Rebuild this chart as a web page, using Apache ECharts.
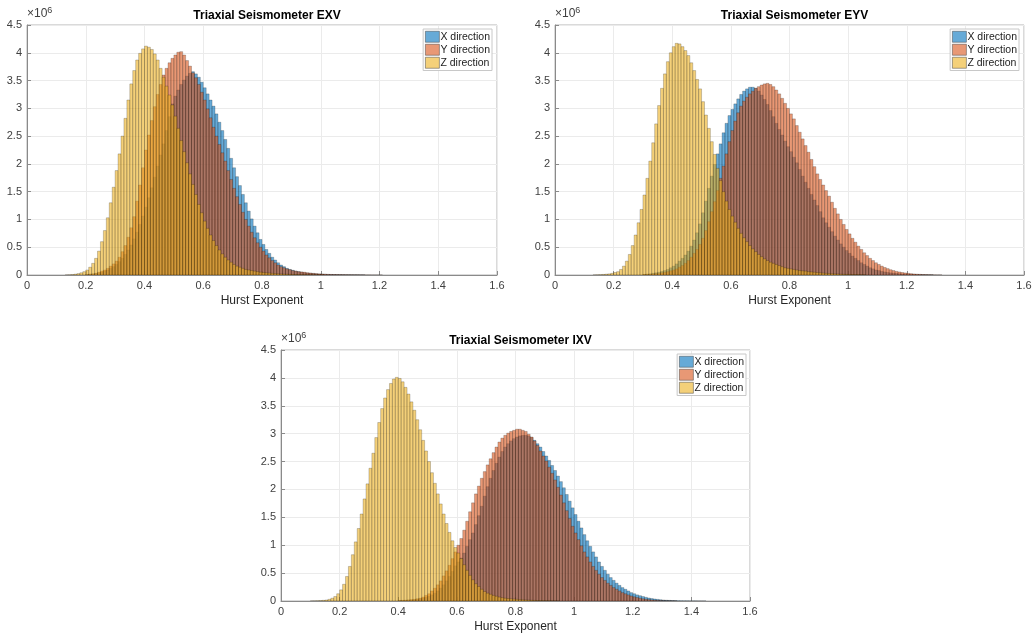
<!DOCTYPE html>
<html>
<head>
<meta charset="utf-8">
<script src="https://cdn.jsdelivr.net/npm/echarts@6/dist/echarts.min.js"></script>
<style>
  html, body { margin: 0; padding: 0; background: #fff; }
  #chart { width: 1035px; height: 634px; }
</style>
</head>
<body>
<div id="chart"></div>
<script>
// histogram bin width (Hurst exponent) and counts in units of 1e6
const binWidth = 0.01;
const xTicks = [0, 0.2, 0.4, 0.6, 0.8, 1, 1.2, 1.4, 1.6];
const yTicks = [0, 0.5, 1, 1.5, 2, 2.5, 3, 3.5, 4, 4.5];
const seriesNames = ['X direction', 'Y direction', 'Z direction'];
const titles = ['Triaxial Seismometer EXV', 'Triaxial Seismometer EYV', 'Triaxial Seismometer IXV'];

// EXV
const exvXStart = 0.20;
const exvX = [0.01, 0.015, 0.02, 0.03, 0.04, 0.05, 0.07, 0.09, 0.12, 0.15, 0.19, 0.24, 0.30, 0.37, 0.45, 0.54, 0.65, 0.77, 0.91, 1.06,
  1.22, 1.39, 1.57, 1.76, 1.96, 2.16, 2.36, 2.60, 2.85, 3.08, 3.22, 3.33, 3.43, 3.51, 3.58, 3.63, 3.66, 3.62, 3.56, 3.47,
  3.37, 3.26, 3.15, 3.04, 2.90, 2.75, 2.60, 2.44, 2.28, 2.10, 1.93, 1.77, 1.61, 1.45, 1.30, 1.15, 1.01, 0.88, 0.76, 0.64,
  0.55, 0.46, 0.39, 0.32, 0.27, 0.22, 0.18, 0.15, 0.12, 0.10, 0.085, 0.07, 0.06, 0.05, 0.04, 0.035, 0.03, 0.025, 0.02, 0.017,
  0.014, 0.012, 0.01, 0.008, 0.007, 0.006, 0.005, 0.004, 0.003, 0.003, 0.002, 0.002, 0.002, 0.001, 0.001];
const exvYStart = 0.20;
const exvY = [0.01, 0.015, 0.02, 0.03, 0.05, 0.07, 0.09, 0.12, 0.16, 0.20, 0.25, 0.32, 0.42, 0.53, 0.68, 0.85, 1.05, 1.33, 1.62, 1.93,
  2.25, 2.52, 2.78, 3.03, 3.25, 3.43, 3.60, 3.72, 3.82, 3.90, 3.96, 4.01, 4.02, 3.96, 3.86, 3.76, 3.64, 3.55, 3.43, 3.29,
  3.15, 2.99, 2.83, 2.66, 2.50, 2.35, 2.20, 2.05, 1.88, 1.72, 1.56, 1.41, 1.27, 1.13, 1.00, 0.88, 0.77, 0.67, 0.58, 0.50,
  0.43, 0.36, 0.31, 0.26, 0.22, 0.18, 0.15, 0.13, 0.11, 0.095, 0.08, 0.07, 0.06, 0.055, 0.05, 0.04, 0.035, 0.03, 0.025, 0.02,
  0.018, 0.015, 0.012, 0.01, 0.009, 0.008, 0.007, 0.006, 0.005, 0.004, 0.004, 0.003, 0.003, 0.002, 0.002, 0.002, 0.002, 0.001, 0.001, 0.001, 0.001];
const exvZStart = 0.13;
const exvZ = [0.002, 0.004, 0.008, 0.015, 0.025, 0.04, 0.06, 0.09, 0.14, 0.21, 0.30, 0.43, 0.60, 0.80, 1.03, 1.30, 1.58, 1.88, 2.18, 2.50,
  2.82, 3.15, 3.44, 3.68, 3.87, 3.99, 4.07, 4.12, 4.10, 4.06, 3.98, 3.87, 3.72, 3.56, 3.40, 3.24, 3.06, 2.86, 2.64, 2.42,
  2.22, 2.02, 1.82, 1.63, 1.45, 1.27, 1.12, 0.97, 0.84, 0.72, 0.62, 0.53, 0.45, 0.38, 0.32, 0.27, 0.23, 0.19, 0.16, 0.14,
  0.12, 0.10, 0.09, 0.08, 0.07, 0.06, 0.05, 0.045, 0.04, 0.035, 0.03, 0.026, 0.022, 0.019, 0.016, 0.014, 0.012, 0.01, 0.009, 0.008,
  0.007, 0.006, 0.005, 0.004, 0.004, 0.003, 0.003, 0.002];

// EYV
const eyvXStart = 0.30;
const eyvX = [0.01, 0.015, 0.02, 0.03, 0.04, 0.05, 0.065, 0.08, 0.10, 0.13, 0.16, 0.20, 0.25, 0.30, 0.36, 0.43, 0.52, 0.63, 0.76, 0.92,
  1.12, 1.33, 1.56, 1.78, 1.99, 2.18, 2.36, 2.56, 2.73, 2.87, 2.98, 3.08, 3.17, 3.25, 3.31, 3.35, 3.38, 3.38, 3.36, 3.31,
  3.24, 3.16, 3.07, 2.96, 2.85, 2.73, 2.62, 2.52, 2.41, 2.31, 2.22, 2.12, 2.02, 1.90, 1.78, 1.67, 1.56, 1.45, 1.35, 1.25,
  1.14, 1.03, 0.94, 0.86, 0.78, 0.70, 0.63, 0.56, 0.50, 0.44, 0.39, 0.34, 0.30, 0.26, 0.22, 0.19, 0.16, 0.13, 0.11, 0.09,
  0.08, 0.065, 0.055, 0.045, 0.038, 0.032, 0.027, 0.022, 0.018, 0.015, 0.012, 0.01, 0.008, 0.006, 0.005, 0.004, 0.003, 0.002, 0.002];
const eyvYStart = 0.30;
const eyvY = [0.01, 0.012, 0.015, 0.02, 0.025, 0.03, 0.04, 0.05, 0.06, 0.075, 0.09, 0.11, 0.14, 0.17, 0.21, 0.26, 0.32, 0.39, 0.46, 0.55,
  0.66, 0.80, 0.96, 1.14, 1.32, 1.52, 1.74, 1.96, 2.18, 2.40, 2.60, 2.77, 2.92, 3.04, 3.13, 3.20, 3.26, 3.31, 3.36, 3.39,
  3.42, 3.44, 3.45, 3.43, 3.39, 3.33, 3.26, 3.18, 3.09, 3.00, 2.90, 2.81, 2.69, 2.57, 2.45, 2.33, 2.21, 2.08, 1.95, 1.82,
  1.72, 1.62, 1.52, 1.42, 1.31, 1.20, 1.10, 1.00, 0.91, 0.82, 0.74, 0.66, 0.59, 0.52, 0.46, 0.40, 0.35, 0.30, 0.26, 0.22,
  0.19, 0.16, 0.135, 0.115, 0.095, 0.08, 0.065, 0.055, 0.045, 0.037, 0.03, 0.024, 0.019, 0.015, 0.012, 0.009, 0.007, 0.005, 0.004, 0.003,
  0.002, 0.002];
const eyvZStart = 0.13;
const eyvZ = [0.002, 0.004, 0.006, 0.01, 0.015, 0.02, 0.03, 0.045, 0.06, 0.10, 0.16, 0.25, 0.37, 0.53, 0.72, 0.94, 1.18, 1.44, 1.74, 2.05,
  2.38, 2.72, 3.05, 3.36, 3.62, 3.84, 4.00, 4.11, 4.17, 4.16, 4.11, 4.04, 3.95, 3.82, 3.68, 3.52, 3.35, 3.12, 2.88, 2.64,
  2.40, 2.17, 1.92, 1.70, 1.50, 1.33, 1.18, 1.06, 0.95, 0.84, 0.75, 0.67, 0.60, 0.53, 0.47, 0.42, 0.37, 0.33, 0.29, 0.26,
  0.23, 0.21, 0.19, 0.17, 0.15, 0.13, 0.12, 0.11, 0.10, 0.09, 0.08, 0.075, 0.07, 0.06, 0.055, 0.05, 0.045, 0.04, 0.035, 0.03,
  0.027, 0.024, 0.02, 0.018, 0.015, 0.013, 0.011, 0.01, 0.008, 0.007, 0.006, 0.005, 0.004];

// IXV
const ixvXStart = 0.40;
const ixvX = [0.005, 0.007, 0.01, 0.013, 0.017, 0.022, 0.03, 0.04, 0.05, 0.065, 0.085, 0.11, 0.14, 0.18, 0.23, 0.29, 0.36, 0.44, 0.53, 0.63,
  0.70, 0.77, 0.86, 0.98, 1.10, 1.22, 1.37, 1.53, 1.70, 1.88, 2.05, 2.20, 2.34, 2.47, 2.58, 2.68, 2.76, 2.82, 2.87, 2.91,
  2.94, 2.96, 2.97, 2.97, 2.96, 2.93, 2.88, 2.82, 2.76, 2.68, 2.60, 2.52, 2.43, 2.34, 2.24, 2.14, 2.03, 1.91, 1.79, 1.67,
  1.55, 1.43, 1.31, 1.19, 1.08, 0.98, 0.88, 0.79, 0.70, 0.62, 0.55, 0.48, 0.42, 0.37, 0.32, 0.28, 0.24, 0.21, 0.18, 0.15,
  0.13, 0.11, 0.095, 0.08, 0.066, 0.054, 0.044, 0.036, 0.029, 0.023, 0.018, 0.014, 0.011, 0.008, 0.006, 0.005, 0.004, 0.003, 0.003, 0.002,
  0.002, 0.002, 0.001, 0.001, 0.001];
const ixvYStart = 0.40;
const ixvY = [0.01, 0.012, 0.015, 0.02, 0.025, 0.03, 0.04, 0.05, 0.07, 0.10, 0.13, 0.18, 0.23, 0.29, 0.36, 0.45, 0.54, 0.64, 0.76, 0.88,
  1.00, 1.12, 1.27, 1.43, 1.60, 1.76, 1.92, 2.06, 2.20, 2.32, 2.44, 2.55, 2.66, 2.76, 2.85, 2.92, 2.97, 3.01, 3.04, 3.06,
  3.08, 3.08, 3.06, 3.04, 2.99, 2.94, 2.87, 2.79, 2.69, 2.60, 2.51, 2.40, 2.29, 2.17, 2.04, 1.90, 1.76, 1.62, 1.48, 1.34,
  1.22, 1.10, 0.99, 0.88, 0.79, 0.70, 0.62, 0.55, 0.48, 0.42, 0.37, 0.32, 0.28, 0.24, 0.21, 0.18, 0.15, 0.13, 0.11, 0.09,
  0.075, 0.062, 0.05, 0.04, 0.032, 0.025, 0.02, 0.015, 0.012, 0.009, 0.007, 0.005, 0.004, 0.003, 0.002];
const ixvZStart = 0.10;
const ixvZ = [0.002, 0.003, 0.005, 0.008, 0.012, 0.018, 0.03, 0.05, 0.08, 0.13, 0.20, 0.30, 0.44, 0.62, 0.83, 1.06, 1.30, 1.56, 1.83, 2.10,
  2.38, 2.65, 2.93, 3.20, 3.45, 3.64, 3.79, 3.90, 3.98, 4.01, 3.99, 3.93, 3.83, 3.71, 3.57, 3.42, 3.25, 3.07, 2.88, 2.69,
  2.50, 2.30, 2.11, 1.92, 1.74, 1.56, 1.39, 1.23, 1.08, 0.96, 0.86, 0.76, 0.65, 0.55, 0.46, 0.38, 0.31, 0.26, 0.21, 0.17,
  0.14, 0.12, 0.10, 0.085, 0.07, 0.06, 0.05, 0.045, 0.04, 0.035, 0.03, 0.026, 0.022, 0.019, 0.016, 0.013, 0.011, 0.009, 0.008, 0.006,
  0.005, 0.004, 0.003, 0.003, 0.002];

const panels = [
  [[exvXStart, exvX], [exvYStart, exvY], [exvZStart, exvZ]],
  [[eyvXStart, eyvX], [eyvYStart, eyvY], [eyvZStart, eyvZ]],
  [[ixvXStart, ixvX], [ixvYStart, ixvY], [ixvZStart, ixvZ]]
];

const colors = ['rgba(0,114,189,0.6)', 'rgba(217,83,25,0.6)', 'rgba(237,177,32,0.6)'];
const fontFamily = 'Helvetica, "Liberation Sans", Arial, sans-serif';

const grids = [
  {left: 27, top: 25, width: 470, height: 250},
  {left: 555, top: 25, width: 469, height: 250},
  {left: 281, top: 350, width: 469, height: 251}
];
const legendPos = [
  {right: 543, top: 29},
  {right: 16, top: 29},
  {right: 289, top: 354}
];

function toBins(start, vals) {
  return vals.map((v, i) => [+(start + i * binWidth).toFixed(3), v]);
}

function renderBar(params, api) {
  let x0 = api.value(0);
  let h = api.value(1);
  let p1 = api.coord([x0, h]);
  let p2 = api.coord([x0 + binWidth, 0]);
  return {
    type: 'rect',
    shape: {x: p1[0], y: p1[1], width: p2[0] - p1[0], height: p2[1] - p1[1]},
    style: {fill: api.visual('color'), stroke: 'rgba(0,0,0,0.4)', lineWidth: 0.5}
  };
}

let option = {
  animation: false,
  backgroundColor: '#fff',
  textStyle: {fontFamily: fontFamily},
  title: grids.map((g, i) => ({
    text: titles[i],
    left: g.left + g.width / 2,
    top: g.top - 20,
    textAlign: 'center',
    textStyle: {fontSize: 12, fontWeight: 'bold', color: '#000', fontFamily: fontFamily}
  })),
  grid: grids.map(g => Object.assign({show: true, borderColor: '#b5b5b5', borderWidth: 1, backgroundColor: 'transparent'}, g)),
  legend: legendPos.map(p => ({
    data: seriesNames,
    orient: 'vertical',
    right: p.right,
    top: p.top,
    itemWidth: 14,
    itemHeight: 11,
    itemGap: 1.5,
    padding: [2, 2, 2, 2],
    borderColor: '#c8c8c8',
    borderWidth: 1,
    backgroundColor: '#fff',
    icon: 'rect',
    itemStyle: {borderColor: '#444', borderWidth: 0.5},
    textStyle: {fontSize: 10.5, color: '#222', padding: [0, 0, 0, -4], fontFamily: fontFamily}
  })),
  xAxis: grids.map((g, i) => ({
    gridIndex: i,
    type: 'value',
    min: xTicks[0],
    max: xTicks[xTicks.length - 1],
    interval: 0.2,
    name: 'Hurst Exponent',
    nameLocation: 'middle',
    nameGap: 20,
    nameTextStyle: {fontSize: 12, color: '#262626'},
    axisLine: {show: true, onZero: false, lineStyle: {color: '#8a8a8a'}},
    axisTick: {show: true, inside: true, length: 4, lineStyle: {color: '#8a8a8a'}},
    axisLabel: {fontSize: 11, color: '#404040', margin: 5, formatter: v => String(+v.toFixed(1))},
    splitLine: {show: true, lineStyle: {color: '#ebebeb'}}
  })),
  yAxis: grids.map((g, i) => ({
    gridIndex: i,
    type: 'value',
    min: yTicks[0],
    max: yTicks[yTicks.length - 1],
    interval: 0.5,
    name: '×10{s|6}',
    nameLocation: 'end',
    nameGap: 3,
    nameTextStyle: {
      fontSize: 12, color: '#404040', align: 'left', padding: [0, 0, 0, 0],
      rich: {s: {fontSize: 9, color: '#404040', verticalAlign: 'top', padding: [0, 0, 7, 0]}}
    },
    axisLine: {show: true, lineStyle: {color: '#8a8a8a'}},
    axisTick: {show: true, inside: true, length: 4, lineStyle: {color: '#8a8a8a'}},
    axisLabel: {fontSize: 11, color: '#404040', margin: 5, formatter: v => String(+v.toFixed(1))},
    splitLine: {show: true, lineStyle: {color: '#ebebeb'}}
  })),
  series: []
};

panels.forEach((panel, gi) => {
  panel.forEach(([start, vals], si) => {
    option.series.push({
      name: seriesNames[si],
      type: 'custom',
      xAxisIndex: gi,
      yAxisIndex: gi,
      clip: true,
      itemStyle: {color: colors[si], borderColor: '#444'},
      encode: {x: 0, y: 1},
      renderItem: renderBar,
      data: toBins(start, vals)
    });
  });
});

let chart = echarts.init(document.getElementById('chart'));
chart.setOption(option);
</script>
</body>
</html>
